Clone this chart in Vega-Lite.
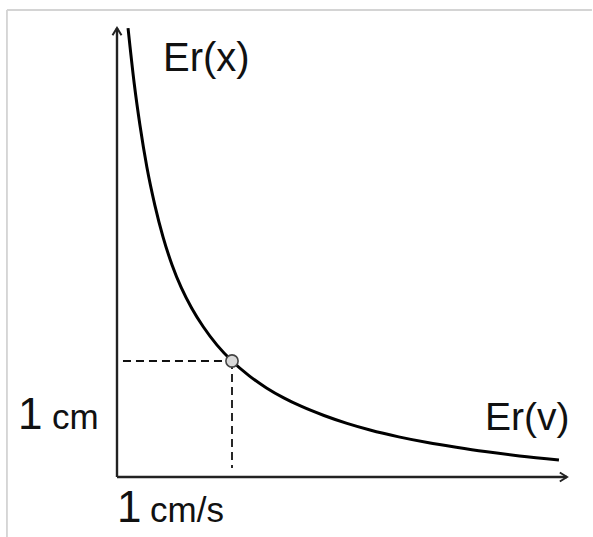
{
  "$schema": "https://vega.github.io/schema/vega-lite/v6.json",
  "width": 593,
  "height": 537,
  "autosize": "none",
  "padding": 0,
  "background": "white",
  "config": {"view": {"stroke": null}},
  "datasets": {
    "curve": [
      {"v": 0.096, "x": 3.87},
      {"v": 0.15, "x": 3.39},
      {"v": 0.2, "x": 3.03},
      {"v": 0.26, "x": 2.67},
      {"v": 0.33, "x": 2.34},
      {"v": 0.4, "x": 2.07},
      {"v": 0.478, "x": 1.83},
      {"v": 0.56, "x": 1.63},
      {"v": 0.65, "x": 1.455},
      {"v": 0.75, "x": 1.295},
      {"v": 0.87, "x": 1.137},
      {"v": 1.0, "x": 1.0},
      {"v": 1.15, "x": 0.872},
      {"v": 1.3, "x": 0.768},
      {"v": 1.45, "x": 0.682},
      {"v": 1.6, "x": 0.61},
      {"v": 1.8, "x": 0.53},
      {"v": 2.0, "x": 0.462},
      {"v": 2.2, "x": 0.405},
      {"v": 2.45, "x": 0.346},
      {"v": 2.7, "x": 0.297},
      {"v": 2.95, "x": 0.256},
      {"v": 3.2, "x": 0.219},
      {"v": 3.5, "x": 0.182},
      {"v": 3.843, "x": 0.147}
    ],
    "axes": [
      {"v": 0, "x": 0, "v2": 0, "x2": 3.871},
      {"v": 0, "x": 0, "v2": 3.913, "x2": 0}
    ],
    "dashes": [
      {"v": 0.052, "x": 1, "v2": 1, "x2": 1},
      {"v": 1, "x": 1, "v2": 1, "x2": 0.078}
    ],
    "frame": [
      {"v": -0.957, "x": 4.026, "v2": 4.13, "x2": 4.026},
      {"v": -0.957, "x": 4.026, "v2": -0.957, "x2": -0.517}
    ],
    "marker": [{"v": 1, "x": 1}],
    "arrowUp": [{"v": 0, "x": 3.871}],
    "arrowRight": [{"v": 3.913, "x": 0}],
    "labels": [
      {"v": 0.4, "x": 3.5, "label": "Er(x)", "size": 40},
      {"v": 3.2, "x": 0.405, "label": "Er(v)", "size": 39},
      {"v": -0.861, "x": 0.414, "label": "1", "size": 44},
      {"v": -0.565, "x": 0.414, "label": "cm", "size": 35},
      {"v": 0.0, "x": -0.388, "label": "1", "size": 44},
      {"v": 0.287, "x": -0.388, "label": "cm/s", "size": 35}
    ]
  },
  "encoding": {
    "x": {"field": "v", "type": "quantitative", "scale": {"domain": [-1.01739, 4.13913], "nice": false, "zero": false}, "axis": null},
    "y": {"field": "x", "type": "quantitative", "scale": {"domain": [-0.51724, 4.11207], "nice": false, "zero": false}, "axis": null}
  },
  "layer": [
    {
      "data": {"name": "frame"},
      "mark": {"type": "rule", "stroke": "#d4d4d4", "strokeWidth": 1.8},
      "encoding": {"x2": {"field": "v2"}, "y2": {"field": "x2"}}
    },
    {
      "data": {"name": "axes"},
      "mark": {"type": "rule", "stroke": "#222222", "strokeWidth": 2.4},
      "encoding": {"x2": {"field": "v2"}, "y2": {"field": "x2"}}
    },
    {
      "data": {"name": "arrowUp"},
      "mark": {"type": "point", "shape": "M-1,1.6L0,0L1,1.6", "size": 81, "filled": false, "stroke": "#222222", "strokeWidth": 2, "opacity": 1}
    },
    {
      "data": {"name": "arrowRight"},
      "mark": {"type": "point", "shape": "M-1.6,-1L0,0L-1.6,1", "size": 81, "filled": false, "stroke": "#222222", "strokeWidth": 2, "opacity": 1}
    },
    {
      "data": {"name": "dashes"},
      "mark": {"type": "rule", "stroke": "#111111", "strokeWidth": 1.8, "strokeDash": [8, 5]},
      "encoding": {"x2": {"field": "v2"}, "y2": {"field": "x2"}}
    },
    {
      "data": {"name": "curve"},
      "mark": {"type": "line", "interpolate": "monotone", "stroke": "#000000", "strokeWidth": 3}
    },
    {
      "data": {"name": "marker"},
      "mark": {"type": "point", "shape": "circle", "size": 150, "filled": true, "fill": "#d9d9d9", "stroke": "#444444", "strokeWidth": 1.6, "opacity": 1}
    },
    {
      "data": {"name": "labels"},
      "mark": {"type": "text", "align": "left", "baseline": "alphabetic", "font": "Liberation Sans", "color": "#111111"},
      "encoding": {
        "text": {"field": "label"},
        "size": {"field": "size", "type": "quantitative", "scale": null}
      }
    }
  ]
}
